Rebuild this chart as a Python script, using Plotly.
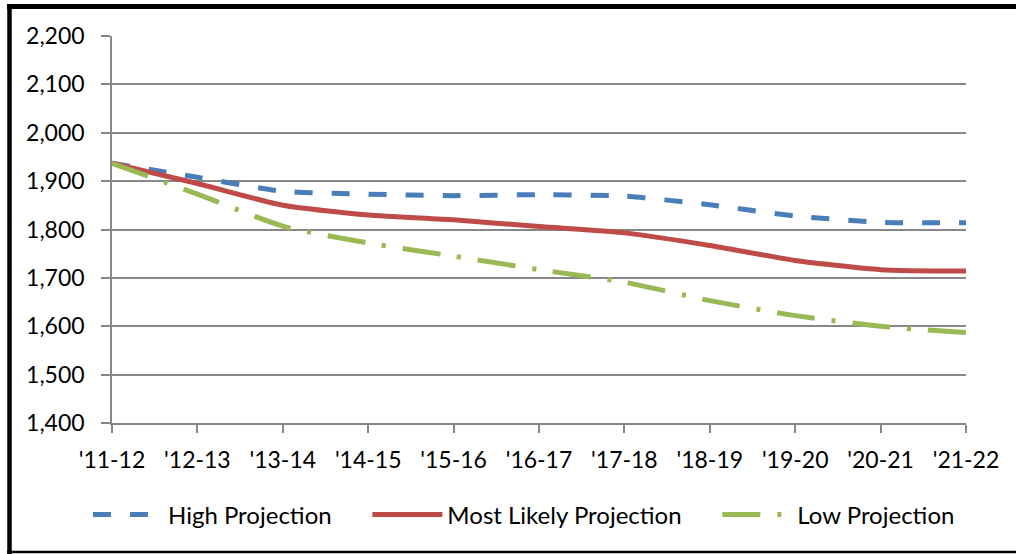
import plotly.graph_objects as go

categories = ["'11-12", "'12-13", "'13-14", "'14-15", "'15-16", "'16-17",
              "'17-18", "'18-19", "'19-20", "'20-21", "'21-22"]
high = [1937, 1908, 1879, 1873, 1870, 1872, 1869, 1851, 1828, 1815, 1814]
most_likely = [1937, 1895, 1850, 1830, 1820, 1806, 1793, 1767, 1736, 1717, 1714]
low = [1937, 1873, 1807, 1772, 1745, 1717, 1691, 1653, 1622, 1600, 1587]
y_ticks = [1400, 1500, 1600, 1700, 1800, 1900, 2000, 2100, 2200]
series_names = ["High Projection", "Most Likely Projection", "Low Projection"]

FONT = "Lato"
W, H = 1016, 554
L, R, T, B = 112, 50, 36, 131
pw, ph = W - L - R, H - T - B
PAD = "\u00a0" * 5  # spacing between legend entries


def px(X):
    return (X - L) / pw


def py(Y):
    return (H - B - Y) / ph


fig = go.Figure()
fig.add_trace(go.Scatter(x=categories, y=high, name=series_names[0] + PAD, mode="lines",
                         line=dict(color="#4A7EBB", width=5, dash="18px,19px",
                                   shape="spline", smoothing=0.6)))
fig.add_trace(go.Scatter(x=categories, y=most_likely, name=series_names[1] + PAD, mode="lines",
                         line=dict(color="#BE4B48", width=5, shape="spline", smoothing=0.6)))
fig.add_trace(go.Scatter(x=categories, y=low, name=series_names[2], mode="lines",
                         line=dict(color="#98B954", width=5, dash="38px,17px,4px,17px",
                                   shape="spline", smoothing=0.6)))

border = "#000000"
shapes = [
    dict(type="line", xref="paper", yref="paper", x0=px(7), x1=px(1016), y0=py(6.5), y1=py(6.5),
         line=dict(color=border, width=5)),
    dict(type="line", xref="paper", yref="paper", x0=px(9.5), x1=px(9.5), y0=py(4), y1=py(554),
         line=dict(color=border, width=4.5)),
    dict(type="line", xref="paper", yref="paper", x0=px(7), x1=px(1016), y0=py(552), y1=py(552),
         line=dict(color=border, width=2.5)),
]

fig.update_layout(
    width=W, height=H,
    margin=dict(l=L, r=R, t=T, b=B, autoexpand=False),
    paper_bgcolor="white", plot_bgcolor="white",
    font=dict(family=FONT, size=23, color="#000000"),
    showlegend=True,
    legend=dict(orientation="h", x=px(88), xanchor="left", y=py(515), yanchor="middle",
                font=dict(family=FONT, size=24, color="#000000"),
                itemwidth=70, tracegroupgap=0),
    shapes=shapes,
    xaxis=dict(type="category", range=[0, len(categories) - 1],
               showgrid=False, showline=True, linecolor="#878787", linewidth=1.5,
               ticks="outside", ticklen=8, tickcolor="#878787", tickwidth=1.5,
               ticklabelstandoff=8, tickfont=dict(family=FONT, size=23),
               zeroline=False),
    yaxis=dict(range=[1400, 2200], tickvals=y_ticks,
               ticktext=[f"{v:,}" for v in y_ticks],
               showgrid=True, gridcolor="#878787", gridwidth=1.5,
               showline=True, linecolor="#878787", linewidth=1.5,
               ticks="outside", ticklen=9, tickcolor="#878787", tickwidth=1.5,
               ticklabelstandoff=12, tickfont=dict(family=FONT, size=23),
               zeroline=False),
)

fig.write_html(
    "out.html",
    config={"displayModeBar": False},
    post_script="document.body.style.margin='0';document.body.style.overflow='hidden';",
)
